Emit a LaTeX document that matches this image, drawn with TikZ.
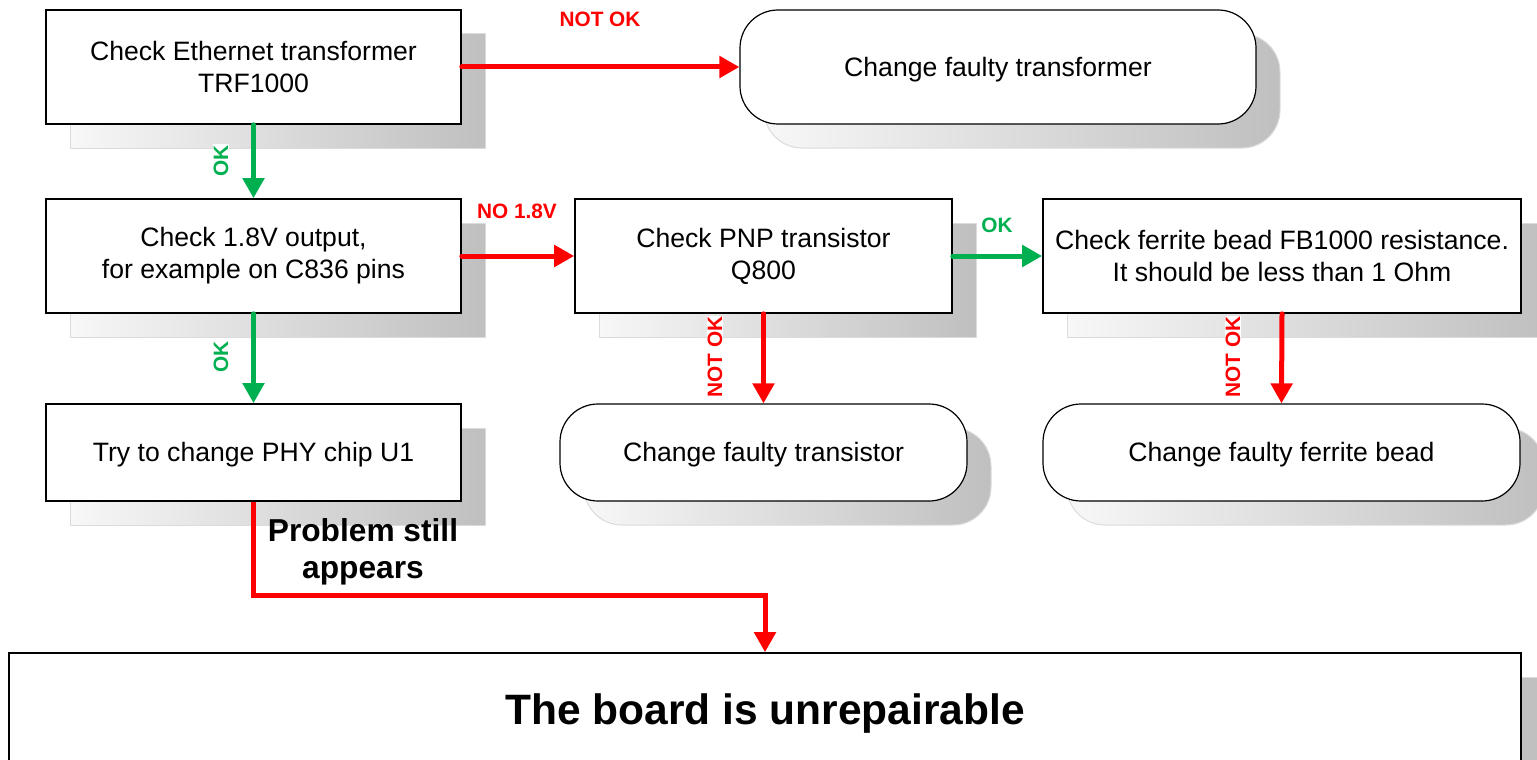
\documentclass[tikz,border=0pt]{standalone}
\usepackage{fontspec}
\setmainfont{Liberation Sans}
\usetikzlibrary{arrows.meta,shadows}
\definecolor{okgreen}{HTML}{00B050}
\definecolor{nokred}{HTML}{FF0000}
\begin{document}
\begin{tikzpicture}[x=1pt,y=-1pt,
  shadowed/.style={general shadow={shadow xshift=24pt, shadow yshift=-24pt,
      left color=black!3, right color=black!25, draw=black!14, line width=1pt}},
  stepbox/.style={rectangle, draw=black, line width=1.6pt, fill=white, inner sep=0pt,
      align=center, font=\fontsize{26.6}{32}\selectfont, shadowed},
  oneline/.style={text height=24.1pt, text depth=5.6pt},
  endbox/.style={stepbox, oneline, rounded corners=38pt, line width=1.2pt},
  arrowbase/.style={line width=5pt, line cap=round, -{Triangle[length=20pt,width=21pt]}},
  redarrow/.style={arrowbase, draw=nokred},
  greenarrow/.style={arrowbase, draw=okgreen},
  lbl/.style={font=\fontsize{20.8}{24}\bfseries, inner sep=1pt},
  vlbl/.style={lbl, rotate=90, fill=white},
]
\useasboundingbox (0,0) rectangle (1537,760);

% boxes
\node[stepbox, minimum width=415pt, minimum height=114pt] (A) at (253.5,67) {Check Ethernet transformer\\TRF1000};
\node[endbox, minimum width=516pt, minimum height=114pt] (B) at (998,67) {Change faulty transformer};
\node[stepbox, minimum width=415pt, minimum height=114pt] (C) at (253.5,256) {Check 1.8V output,\\for example on C836 pins};
\node[stepbox, minimum width=377pt, minimum height=114pt] (D) at (763.5,256) {Check PNP transistor\\Q800};
\node[stepbox, minimum width=478pt, minimum height=114pt] (E) at (1282,256) {Check ferrite bead FB1000 resistance.\\It should be less than 1 Ohm};
\node[stepbox, oneline, minimum width=415pt, minimum height=97pt] (F) at (253.5,452.5) {Try to change PHY chip U1};
\node[endbox, minimum width=407pt, minimum height=97pt] (G) at (763.5,452.5) {Change faulty transistor};
\node[endbox, minimum width=477pt, minimum height=97pt] (H) at (1281.5,452.5) {Change faulty ferrite bead};
\node[stepbox, text height=38.5pt, text depth=9pt, minimum width=1512pt, minimum height=114pt, font=\fontsize{42.5}{48}\bfseries] (I) at (765,710) {The board is unrepairable};

% connectors
\draw[redarrow] (A.east) -- (B.west);
\draw[greenarrow] (A.south) -- (C.north);
\draw[redarrow] (C.east) -- (D.west);
\draw[greenarrow] (D.east) -- (E.west);
\draw[greenarrow] (C.south) -- (F.north);
\draw[redarrow] (D.south) -- (G.north);
\draw[redarrow] (E.south) -- (H.north);
\coordinate (bend) at (253.5,595);
\draw[redarrow, line cap=butt] (F.south) -- (bend) -| (I.north);

% labels
\node[lbl, text=nokred] (l1) at (600,19) {NOT OK};
\node[vlbl, text=okgreen] (l2) at (221,161) {OK};
\node[lbl, text=nokred] (l3) at (517,211) {NO 1.8V};
\node[lbl, text=okgreen] (l4) at (997,225) {OK};
\node[vlbl, text=okgreen] (l5) at (221,357) {OK};
\node[vlbl, text=nokred] (l6) at (715,357) {NOT OK};
\node[vlbl, text=nokred] (l7) at (1233,357) {NOT OK};
\node[font=\fontsize{31.7}{37}\bfseries, align=center, inner sep=0pt] (l8) at (363,552) {Problem still\\appears};
\end{tikzpicture}
\end{document}
